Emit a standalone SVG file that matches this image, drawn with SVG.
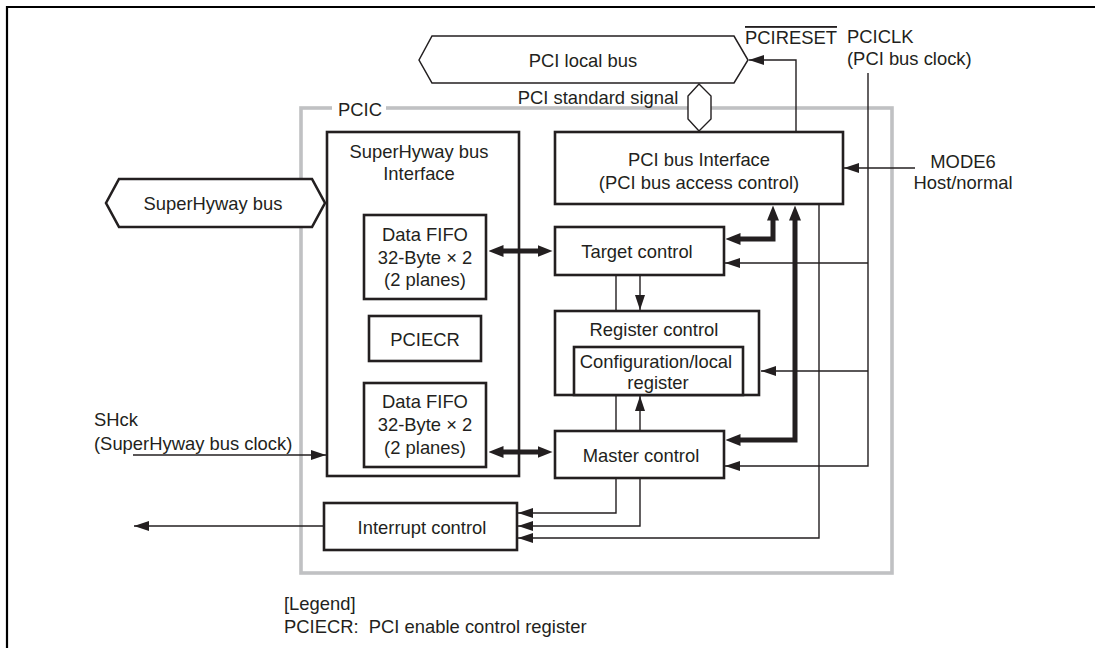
<svg xmlns="http://www.w3.org/2000/svg" width="1095" height="648" viewBox="0 0 1095 648">
<defs>
<style>
text{font-family:"Liberation Sans",Arial,sans-serif;font-size:18.4px;fill:#231f20}
.m{text-anchor:middle}
.box{fill:#fff;stroke:#231f20;stroke-width:2.6}
.thin{fill:none;stroke:#231f20;stroke-width:1.4}
.thick{fill:none;stroke:#231f20;stroke-width:5;stroke-linejoin:miter}
</style>
<marker id="ah" viewBox="0 0 15 10" refX="15" refY="5" markerWidth="15" markerHeight="10" markerUnits="userSpaceOnUse" orient="auto">
<path d="M0,0 L15,5 L0,10 z" fill="#231f20"/>
</marker>
<marker id="ahb" viewBox="0 0 15 12" refX="0.5" refY="6" markerWidth="15" markerHeight="12" markerUnits="userSpaceOnUse" orient="auto-start-reverse">
<path d="M0,0 L15,6 L0,12 z" fill="#231f20"/>
</marker>
</defs>
<rect width="1095" height="648" fill="#fff"/>
<path d="M7,648 V7 H1095" fill="none" stroke="#000" stroke-width="2.2"/>

<g id="pcic-frame">
<rect x="301" y="108" width="591" height="465" fill="none" stroke="#c0c1c3" stroke-width="3.6"/>
<rect x="332" y="99" width="54" height="18" fill="#fff"/>
<text x="338" y="115.5">PCIC</text>
<text class="m" x="598" y="103.5">PCI standard signal</text>
</g>

<g id="sh-interface">
<rect x="327" y="132" width="192" height="344" fill="#fff" stroke="none"/>
</g>

<g id="connectors">
<path class="thin" d="M796,132 V60 H749" marker-end="url(#ah)"/>
<path class="thin" d="M915,168 H844" marker-end="url(#ah)"/>
<path class="thin" d="M868,73 V466 H725" marker-end="url(#ah)"/>
<path class="thin" d="M868,263 H725" marker-end="url(#ah)"/>
<path class="thin" d="M868,371 H761" marker-end="url(#ah)"/>
<path class="thin" d="M819,204 V538 H518" marker-end="url(#ah)"/>
<path class="thin" d="M640,478 V526 H518" marker-end="url(#ah)"/>
<path class="thin" d="M616,275 V311 M616,395 V431 M616,478 V513 H518" marker-end="url(#ah)"/>
<path class="thin" d="M640,275 V310" marker-end="url(#ah)"/>
<path class="thin" d="M640,431 V396" marker-end="url(#ah)"/>
<path class="thin" d="M133,455 H326" marker-end="url(#ah)"/>
<path class="thin" d="M324,526 H134" marker-end="url(#ah)"/>
<path class="thick" d="M503,251 H538" marker-start="url(#ahb)" marker-end="url(#ahb)"/>
<path class="thick" d="M503,452 H538" marker-start="url(#ahb)" marker-end="url(#ahb)"/>
<path class="thick" d="M740,239 H773 V220" marker-start="url(#ahb)" marker-end="url(#ahb)"/>
<path class="thick" d="M740,440 H795 V220" marker-start="url(#ahb)" marker-end="url(#ahb)"/>
</g>

<g id="sh-interface-frame">
<rect x="327" y="132" width="192" height="344" fill="none" stroke="#231f20" stroke-width="2.6"/>
<text class="m" x="419" y="157.5">SuperHyway bus</text>
<text class="m" x="419" y="179.5">Interface</text>
</g>

<g id="pci-local-bus">
<polygon points="419,60 432,36 734,36 748,60 734,83 432,83" fill="#fff" stroke="#231f20" stroke-width="1.5"/>
<text class="m" x="583" y="66.5">PCI local bus</text>
</g>

<g id="pci-std-signal">
<polygon points="699,84 711,96 711,119 699,131 688,119 688,96" fill="#fff" stroke="#231f20" stroke-width="1.4"/>
</g>

<g id="pcireset-label">
<text x="745" y="44" style="text-decoration:overline">PCIRESET</text>
</g>
<g id="pciclk-label">
<text x="847" y="43">PCICLK</text>
<text x="847" y="64.5">(PCI bus clock)</text>
</g>
<g id="mode6-label">
<text class="m" x="963" y="167.5">MODE6</text>
<text class="m" x="963" y="188.5">Host/normal</text>
</g>

<g id="superhyway-bus">
<polygon points="106,203 119,179 312,179 325,203 312,227 119,227" fill="#fff" stroke="#231f20" stroke-width="2.6"/>
<text class="m" x="213" y="209.5">SuperHyway bus</text>
</g>

<g id="fifo1">
<rect class="box" x="364" y="215" width="122" height="84"/>
<text class="m" x="425" y="240.5">Data FIFO</text>
<text class="m" x="425" y="263.5">32-Byte × 2</text>
<text class="m" x="425" y="285.5">(2 planes)</text>
</g>

<g id="pciecr">
<rect class="box" x="369" y="316" width="112" height="45"/>
<text class="m" x="425" y="345.5">PCIECR</text>
</g>

<g id="fifo2">
<rect class="box" x="364" y="383" width="122" height="84"/>
<text class="m" x="425" y="407.5">Data FIFO</text>
<text class="m" x="425" y="430.5">32-Byte × 2</text>
<text class="m" x="425" y="453.5">(2 planes)</text>
</g>

<g id="pci-bus-interface">
<rect class="box" x="555" y="132" width="288" height="72"/>
<text class="m" x="699" y="165.5">PCI bus Interface</text>
<text class="m" x="699" y="188.5">(PCI bus access control)</text>
</g>

<g id="target-control">
<rect class="box" x="555" y="227" width="169" height="48"/>
<text class="m" x="637" y="257.5">Target control</text>
</g>

<g id="register-control">
<rect class="box" x="555" y="311" width="204" height="84"/>
<text class="m" x="654" y="335.5">Register control</text>
<rect class="box" x="574" y="347" width="169" height="48"/>
<text class="m" x="656" y="367.5">Configuration/local</text>
<text class="m" x="658" y="389">register</text>
</g>

<g id="master-control">
<rect class="box" x="555" y="431" width="169" height="47"/>
<text class="m" x="641" y="461.5">Master control</text>
</g>

<g id="interrupt-control">
<rect class="box" x="324" y="503" width="193" height="47"/>
<text class="m" x="422" y="533.5">Interrupt control</text>
</g>

<g id="shck-label">
<text x="94" y="425.5">SHck</text>
<text x="94" y="449.5">(SuperHyway bus clock)</text>
</g>

<g id="legend">
<text x="284" y="610">[Legend]</text>
<text x="284" y="633" xml:space="preserve">PCIECR:  PCI enable control register</text>
</g>
</svg>
